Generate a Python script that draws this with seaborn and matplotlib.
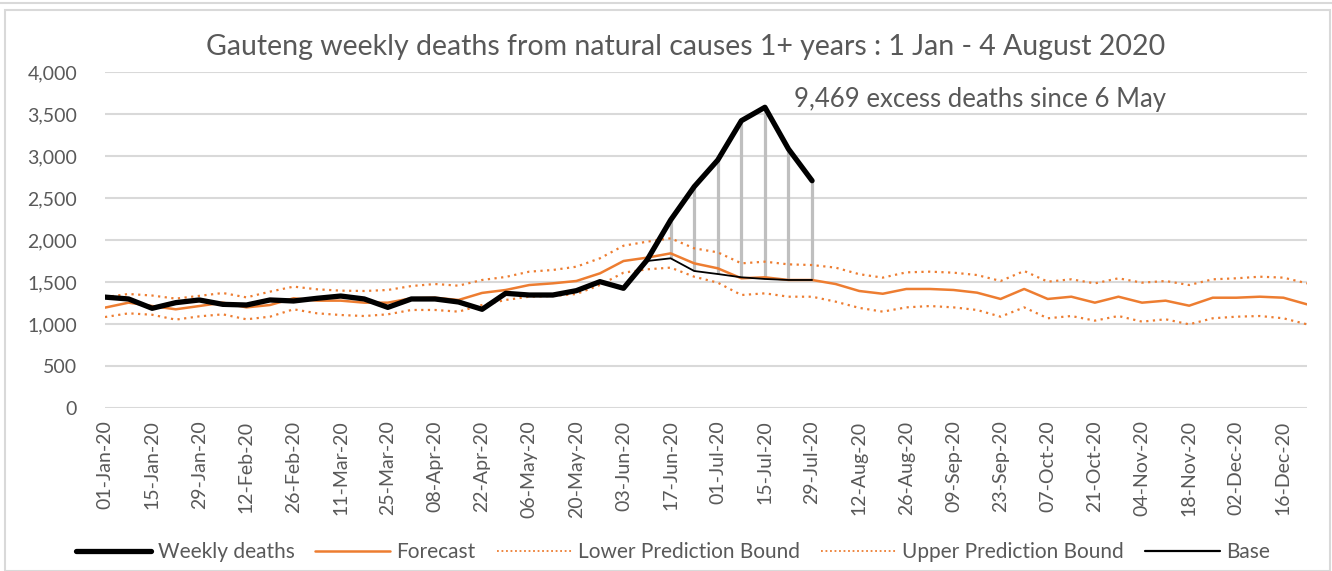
import numpy as np
import pandas as pd
import matplotlib.pyplot as plt
import seaborn as sns
from matplotlib.patches import Rectangle
from matplotlib.lines import Line2D

# weekly categories: 01-Jan-20 .. 23-Dec-20
weeks = pd.date_range('2020-01-01', periods=52, freq='7D')
week_labels = [d.strftime('%d-%b-%y') for d in weeks]

# observed weekly deaths (01-Jan .. 29-Jul)
weekly_deaths = [1320, 1298, 1187, 1254, 1286, 1234, 1226, 1286, 1274, 1306,
                 1333, 1298, 1198, 1298, 1298, 1262, 1175, 1365, 1345, 1345,
                 1397, 1504, 1425, 1762, 2238, 2635, 2952, 3420, 3580, 3083,
                 2706]

forecast = [1195, 1254, 1214, 1175, 1214, 1254, 1198, 1226, 1306, 1278,
            1278, 1254, 1254, 1306, 1313, 1286, 1370, 1405, 1464, 1484,
            1512, 1603, 1750, 1790, 1841, 1722, 1663, 1544, 1556, 1524,
            1524, 1476, 1393, 1360, 1417, 1417, 1405, 1373, 1298, 1417,
            1298, 1325, 1254, 1325, 1254, 1278, 1218, 1313, 1313, 1325,
            1313, 1234]

lower_bound = [1083, 1127, 1110, 1052, 1091, 1115, 1056, 1087, 1175, 1127,
               1107, 1095, 1115, 1167, 1167, 1147, 1226, 1286, 1325, 1333,
               1357, 1464, 1611, 1651, 1671, 1563, 1492, 1345, 1365, 1325,
               1325, 1266, 1192, 1147, 1198, 1214, 1198, 1167, 1087, 1198,
               1068, 1095, 1040, 1095, 1028, 1056, 996, 1068, 1087, 1095,
               1068, 996]

upper_bound = [1321, 1357, 1339, 1302, 1335, 1369, 1317, 1385, 1445, 1413,
               1397, 1393, 1405, 1452, 1476, 1456, 1524, 1560, 1623, 1643,
               1682, 1782, 1932, 1980, 2020, 1901, 1853, 1722, 1742, 1710,
               1702, 1671, 1593, 1552, 1615, 1623, 1611, 1583, 1512, 1631,
               1504, 1532, 1484, 1544, 1492, 1512, 1464, 1532, 1544, 1563,
               1552, 1484]

# base line from 10-Jun onwards (weeks 23..30)
base_start = 23
base = [1750, 1782, 1631, 1595, 1556, 1536, 1524, 1524]

df = pd.DataFrame({'week': np.arange(len(weeks)),
                   'forecast': forecast,
                   'lower': lower_bound,
                   'upper': upper_bound})
df_obs = pd.DataFrame({'week': np.arange(len(weekly_deaths)), 'deaths': weekly_deaths})
df_base = pd.DataFrame({'week': np.arange(base_start, base_start + len(base)), 'base': base})

sns.set_style('white')
plt.rcParams['font.family'] = ['Lato', 'DejaVu Sans']

TXT = '#595959'
ORANGE = '#ED7D31'

fig = plt.figure(figsize=(13.32, 5.71), dpi=100)
ax = fig.add_axes([105 / 1332, 1 - 408 / 571, 1202 / 1332, 336 / 571])

# outer chart border
fig.add_artist(Rectangle((5 / 1332, 0), 1325 / 1332, 1 - 10 / 571, transform=fig.transFigure,
                         fill=False, edgecolor='#D9D9D9', lw=1.5))
fig.add_artist(Line2D([0, 1], [1 - 3 / 571, 1 - 3 / 571], transform=fig.transFigure,
                      color='#D9D9D9', lw=1.5))

# excess drop lines between base and weekly deaths
obs_tail = weekly_deaths[base_start:base_start + len(base)]
ax.vlines(df_base['week'], df_base['base'], obs_tail, color='#BFBFBF', lw=2.3, zorder=2)

sns.lineplot(data=df, x='week', y='lower', ax=ax, color=ORANGE, lw=1.6, ls=(0, (1, 2)), zorder=3)
sns.lineplot(data=df, x='week', y='upper', ax=ax, color=ORANGE, lw=1.6, ls=(0, (1, 2)), zorder=3)
sns.lineplot(data=df, x='week', y='forecast', ax=ax, color=ORANGE, lw=1.8, zorder=4)
sns.lineplot(data=df_base, x='week', y='base', ax=ax, color='black', lw=1.3, zorder=5)
sns.lineplot(data=df_obs, x='week', y='deaths', ax=ax, color='black', lw=3.8, zorder=6,
             solid_joinstyle='round')

ax.set_xlim(0, len(weeks) - 1)
ax.set_ylim(0, 4000)
ax.set_yticks(range(0, 4001, 500))
ax.set_yticklabels([f'{v:,}' for v in range(0, 4001, 500)])
ax.set_xticks(range(0, len(weeks), 2))
ax.set_xticklabels(week_labels[::2], rotation=90)
ax.tick_params(axis='both', length=0, labelsize=14, colors=TXT)
ax.tick_params(axis='y', pad=20)
ax.tick_params(axis='x', pad=9)
ax.grid(axis='y', color='#D9D9D9', lw=1.5)
ax.set_axisbelow(True)
for s in ax.spines.values():
    s.set_visible(False)
ax.set_xlabel('')
ax.set_ylabel('')

fig.text(686 / 1332, 1 - 47 / 571,
         'Gauteng weekly deaths from natural causes 1+ years : 1 Jan - 4 August 2020',
         ha='center', va='center', fontsize=20.5, color=TXT)
ax.text(29.25, 3670, '9,469 excess deaths since 6 May', ha='left', va='center',
        fontsize=18.5, color=TXT)

handles = [Line2D([], [], color='black', lw=3.8),
           Line2D([], [], color=ORANGE, lw=1.8),
           Line2D([], [], color=ORANGE, lw=1.3, ls=(0, (1, 1.5))),
           Line2D([], [], color=ORANGE, lw=1.3, ls=(0, (1, 1.5))),
           Line2D([], [], color='black', lw=1.6)]
labels = ['Weekly deaths', 'Forecast', 'Lower Prediction Bound', 'Upper Prediction Bound', 'Base']
leg = fig.legend(handles, labels, loc='center', bbox_to_anchor=(673 / 1332, 1 - 552 / 571),
                 ncol=5, frameon=False, fontsize=15, handlelength=3.6, handletextpad=0.3,
                 columnspacing=1.0)
for t in leg.get_texts():
    t.set_color(TXT)

fig.savefig('out.png', dpi=100)
